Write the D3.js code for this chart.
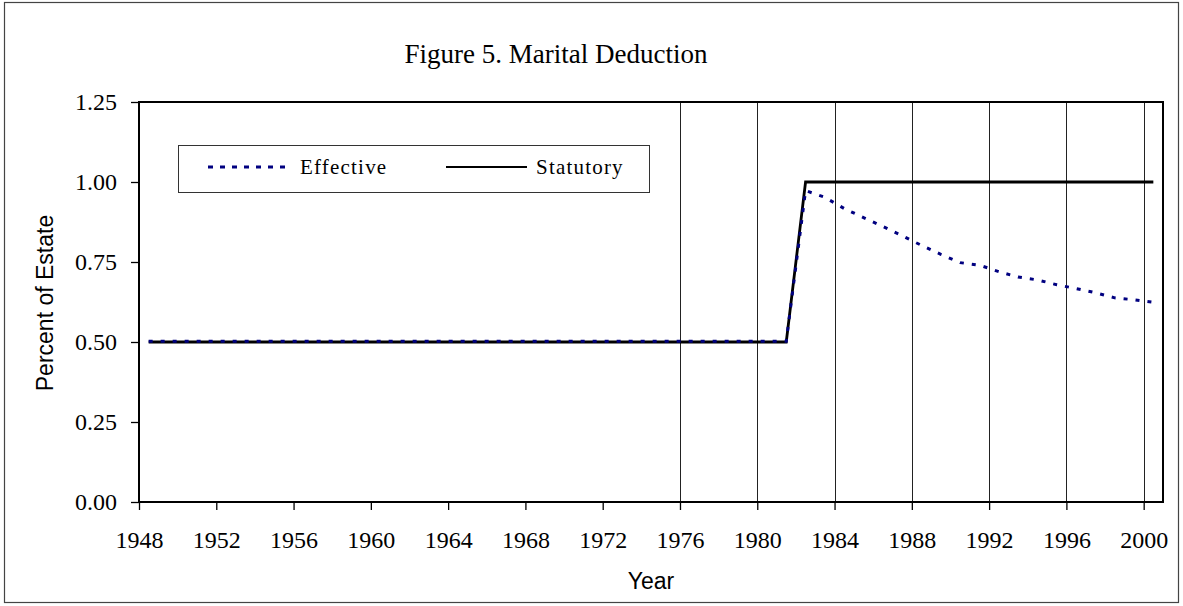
<!DOCTYPE html>
<html>
<head>
<meta charset="utf-8">
<script src="https://cdn.jsdelivr.net/npm/d3@7"></script>
<style>
  body { margin: 0; background: #fff; }
  .serif { font-family: "Liberation Serif", "Times New Roman", serif; }
  .sans { font-family: "Liberation Sans", Arial, sans-serif; }
</style>
</head>
<body>
<div id="chart"></div>
<script>
// years on the axis, series values per year (plotted at mid year)
var years = [1948, 1949, 1950, 1951, 1952, 1953, 1954, 1955, 1956, 1957, 1958, 1959,
  1960, 1961, 1962, 1963, 1964, 1965, 1966, 1967, 1968, 1969, 1970, 1971, 1972, 1973,
  1974, 1975, 1976, 1977, 1978, 1979, 1980, 1981, 1982, 1983, 1984, 1985, 1986, 1987,
  1988, 1989, 1990, 1991, 1992, 1993, 1994, 1995, 1996, 1997, 1998, 1999, 2000];

var statutory = [0.5, 0.5, 0.5, 0.5, 0.5, 0.5, 0.5, 0.5, 0.5, 0.5, 0.5, 0.5,
  0.5, 0.5, 0.5, 0.5, 0.5, 0.5, 0.5, 0.5, 0.5, 0.5, 0.5, 0.5, 0.5, 0.5,
  0.5, 0.5, 0.5, 0.5, 0.5, 0.5, 0.5, 0.5, 1.0, 1.0, 1.0, 1.0, 1.0, 1.0,
  1.0, 1.0, 1.0, 1.0, 1.0, 1.0, 1.0, 1.0, 1.0, 1.0, 1.0, 1.0, 1.0];

var effective = [0.502, 0.502, 0.502, 0.502, 0.502, 0.502, 0.502, 0.502, 0.502, 0.502, 0.502, 0.502,
  0.502, 0.502, 0.502, 0.502, 0.502, 0.502, 0.502, 0.502, 0.502, 0.502, 0.502, 0.502, 0.502, 0.502,
  0.502, 0.502, 0.502, 0.502, 0.502, 0.502, 0.502, 0.502, 0.973, 0.952, 0.917, 0.889, 0.861, 0.832,
  0.802, 0.774, 0.748, 0.740, 0.720, 0.703, 0.694, 0.679, 0.667, 0.654, 0.638, 0.632, 0.624];

var xTicks = [1948, 1952, 1956, 1960, 1964, 1968, 1972, 1976, 1980, 1984, 1988, 1992, 1996, 2000];
var gridYears = [1976, 1980, 1984, 1988, 1992, 1996, 2000];
var yTicks = [0, 0.25, 0.5, 0.75, 1.0, 1.25];

var W = 1183, H = 606;
var pLeft = 139, pRight = 1163, pTop = 102, pBottom = 502;

var svg = d3.select("#chart").append("svg")
  .attr("width", W).attr("height", H);

// outer frame
svg.append("rect")
  .attr("x", 4.5).attr("y", 2.5)
  .attr("width", 1174).attr("height", 600)
  .attr("fill", "#fff")
  .attr("stroke", "#444").attr("stroke-width", 1.2);

var x = d3.scaleLinear().domain([1948, 2001]).range([pLeft, pRight]);
var y = d3.scaleLinear().domain([0, 1.25]).range([pBottom, pTop]);

// vertical gridlines (only from 1976 on)
svg.append("g").selectAll("line")
  .data(gridYears)
  .enter().append("line")
  .attr("x1", function(d) { return Math.round(x(d)) + 0.5; })
  .attr("x2", function(d) { return Math.round(x(d)) + 0.5; })
  .attr("y1", pTop).attr("y2", pBottom)
  .attr("stroke", "#222").attr("stroke-width", 1);

// axes
var xAxis = d3.axisBottom(x).tickValues(xTicks).tickSize(8).tickFormat(d3.format("d"));
var yAxis = d3.axisLeft(y).tickValues(yTicks).tickSize(8).tickFormat(d3.format(".2f"));

var gx = svg.append("g")
  .attr("transform", "translate(0," + pBottom + ")")
  .call(xAxis);
gx.select(".domain").remove();
gx.selectAll(".tick line").attr("stroke", "#000").attr("stroke-width", 1.3);
gx.selectAll(".tick text")
  .attr("class", "serif")
  .attr("font-size", 24)
  .attr("fill", "#000")
  .attr("dy", null)
  .attr("y", 46);

var gy = svg.append("g")
  .attr("transform", "translate(" + pLeft + ",0)")
  .call(yAxis);
gy.select(".domain").remove();
gy.selectAll(".tick line").attr("stroke", "#000").attr("stroke-width", 1.3);
gy.selectAll(".tick text")
  .attr("class", "serif")
  .attr("font-size", 24)
  .attr("fill", "#000")
  .attr("x", -22)
  .attr("dy", "0.33em");

// plot border
svg.append("rect")
  .attr("x", pLeft).attr("y", pTop)
  .attr("width", pRight - pLeft).attr("height", pBottom - pTop)
  .attr("fill", "none")
  .attr("stroke", "#000").attr("stroke-width", 2);

// series
var line = d3.line()
  .x(function(d) { return x(d[0] + 0.5); })
  .y(function(d) { return y(d[1]); });

var statData = years.map(function(yr, i) { return [yr, statutory[i]]; });
var effData = years.map(function(yr, i) { return [yr, effective[i]]; });

svg.append("path")
  .datum(statData)
  .attr("d", line)
  .attr("fill", "none")
  .attr("stroke", "#000").attr("stroke-width", 2.8);

svg.append("path")
  .datum(effData)
  .attr("d", line)
  .attr("fill", "none")
  .attr("stroke", "#000080").attr("stroke-width", 3)
  .attr("stroke-dasharray", "4,8");

// legend
var lg = svg.append("g");
lg.append("rect")
  .attr("x", 178.5).attr("y", 145.5)
  .attr("width", 471).attr("height", 47)
  .attr("fill", "#fff")
  .attr("stroke", "#333").attr("stroke-width", 1);
lg.append("line")
  .attr("x1", 208).attr("x2", 290).attr("y1", 167).attr("y2", 167)
  .attr("stroke", "#000080").attr("stroke-width", 3)
  .attr("stroke-dasharray", "5,7");
lg.append("text")
  .attr("class", "serif")
  .attr("x", 300).attr("y", 174)
  .attr("font-size", 21).attr("letter-spacing", 1.2)
  .text("Effective");
lg.append("line")
  .attr("x1", 446).attr("x2", 527).attr("y1", 167).attr("y2", 167)
  .attr("stroke", "#000").attr("stroke-width", 2);
lg.append("text")
  .attr("class", "serif")
  .attr("x", 536).attr("y", 174)
  .attr("font-size", 21).attr("letter-spacing", 1.2)
  .text("Statutory");

// titles
svg.append("text")
  .attr("class", "serif")
  .attr("x", 556).attr("y", 63)
  .attr("text-anchor", "middle")
  .attr("font-size", 27)
  .text("Figure 5. Marital Deduction");

svg.append("text")
  .attr("class", "sans")
  .attr("x", (pLeft + pRight) / 2).attr("y", 589)
  .attr("text-anchor", "middle")
  .attr("font-size", 23)
  .text("Year");

svg.append("text")
  .attr("class", "sans")
  .attr("transform", "translate(53," + 303 + ") rotate(-90)")
  .attr("text-anchor", "middle")
  .attr("font-size", 23)
  .text("Percent of Estate");
</script>
</body>
</html>
